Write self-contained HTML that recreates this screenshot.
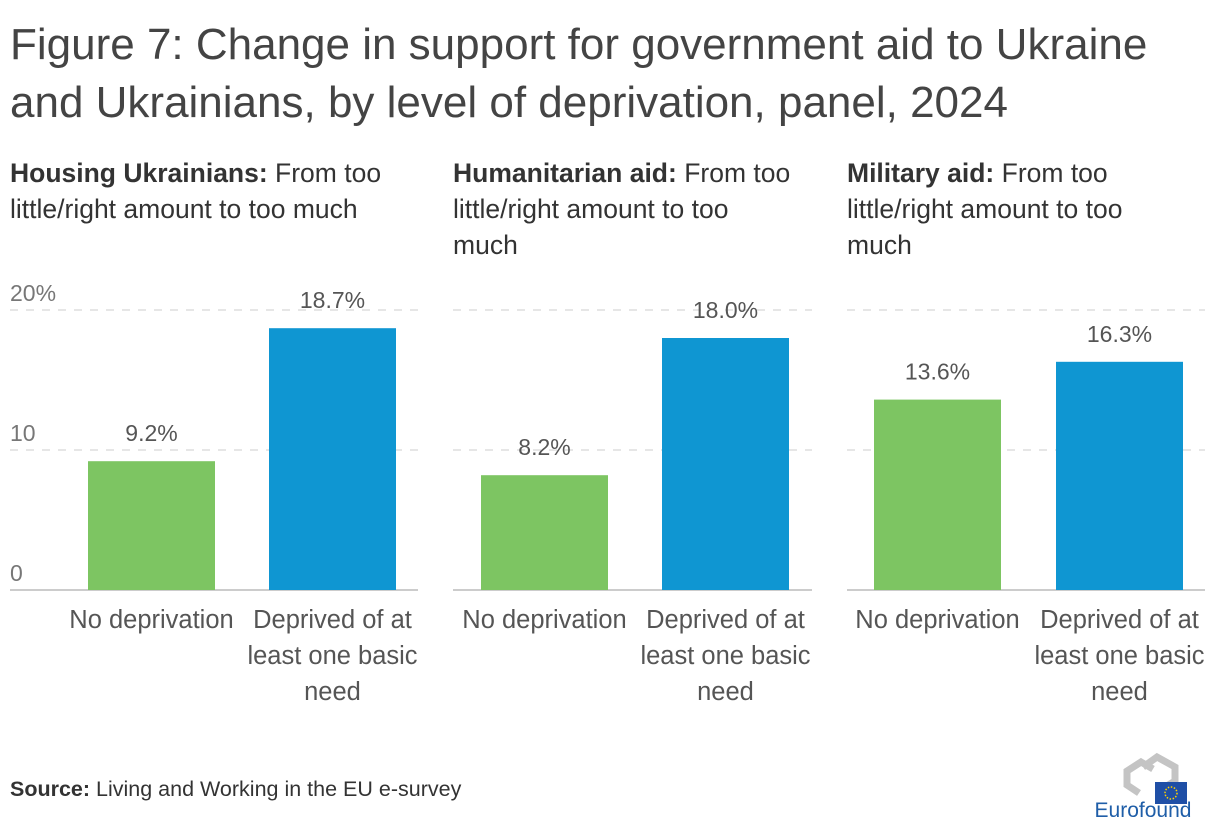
<!DOCTYPE html>
<html><head><meta charset="utf-8"><style>
body{margin:0;width:1220px;height:836px;background:#fff;font-family:"Liberation Sans",sans-serif;color:#444;position:relative;overflow:hidden}
.title{position:absolute;left:10px;top:16px;font-size:44px;line-height:58px;color:#444;white-space:nowrap}
.sub{position:absolute;top:155px;font-size:26.5px;line-height:36px;color:#333;width:372px}
.src{position:absolute;left:10px;top:777px;font-size:21.5px;color:#333}
</style></head><body>
<div class="title">Figure 7: Change in support for government aid to Ukraine<br>and Ukrainians, by level of deprivation, panel, 2024</div>
<div class="sub" style="left:10px;width:380px"><b>Housing Ukrainians:</b> From too<br>little/right amount to too much</div>
<div class="sub" style="left:453px"><b>Humanitarian aid:</b> From too<br>little/right amount to too<br>much</div>
<div class="sub" style="left:847px"><b>Military aid:</b> From too<br>little/right amount to too<br>much</div>
<svg id="chart" width="1220" height="836" style="position:absolute;left:0;top:0"></svg>
<div class="src"><b>Source:</b> Living and Working in the EU e-survey</div>
<svg style="position:absolute;left:1085px;top:745px" width="120" height="80">
<path d="M58 22 l14 -10 l18 10 l0 14 l-10 6 M54 48 l-12 -8 l0 -14 l14 -9 l12 7" fill="none" stroke="#c4c4c4" stroke-width="7"/>
<rect x="70" y="37" width="32" height="22" fill="#1f4fa6"/>
<circle cx="86" cy="48" r="6" fill="none" stroke="#ffd200" stroke-width="1.5" stroke-dasharray="1.5 1.6"/>
<text x="58" y="72" font-size="21" fill="#1f5ea8" text-anchor="middle" font-family="Liberation Sans, sans-serif">Eurofound</text>
</svg>
<script>
const panels=["Housing Ukrainians","Humanitarian aid","Military aid"];
const categories=["No deprivation","Deprived of at least one basic need"];
const noDeprivation=[9.2,8.2,13.6];
const deprived=[18.7,18.0,16.3];
const ticks=[0,10,20];
const svg=document.getElementById('chart');
const NS='http://www.w3.org/2000/svg';
const base=590, pxPerUnit=14;
const y=v=>base-v*pxPerUnit;
const panelX=[10,453,847], panelW=[408,359,358];
const barOff=[[78,259],[28,209],[27,209]], barW=127;
function el(t,a){const e=document.createElementNS(NS,t);for(const k in a)e.setAttribute(k,a[k]);svg.appendChild(e);return e;}
panels.forEach((p,i)=>{
  const x0=panelX[i];
  ticks.forEach(t=>{
    if(t>0){const l=el('line',{x1:x0,x2:x0+panelW[i],y1:y(t),y2:y(t),stroke:'#ccc','stroke-dasharray':'8 8'});
    
    }
    if(i===0){const tx=el('text',{x:10,y:y(t)-9,'font-size':23,fill:'#777','font-family':'Liberation Sans, sans-serif'});tx.textContent=t+(t===20?'%':'');
    
    }
  });
  const ax=el('line',{x1:x0,x2:x0+panelW[i],y1:base,y2:base,stroke:'#bbb','stroke-width':1.5});
  
  
  [noDeprivation[i],deprived[i]].forEach((v,j)=>{
    const bx=x0+barOff[i][j];
    const r=el('rect',{x:bx,y:y(v),width:barW,height:v*pxPerUnit,fill:j?'#0f96d2':'#7dc562'});
    
    
    const lb=el('text',{x:bx+barW/2,y:y(v)-20,'text-anchor':'middle','font-size':23,fill:'#555','font-family':'Liberation Sans, sans-serif'});
    lb.textContent=v.toFixed(1)+'%';
    
    
    const lines=j?['Deprived of at','least one basic','need']:['No deprivation'];
    lines.forEach((s,k)=>{const c=el('text',{x:bx+barW/2,y:628+k*36,'text-anchor':'middle','font-size':25.5,fill:'#555','font-family':'Liberation Sans, sans-serif'});c.textContent=s;
    
    });
  });
});
</script>
</body></html>
